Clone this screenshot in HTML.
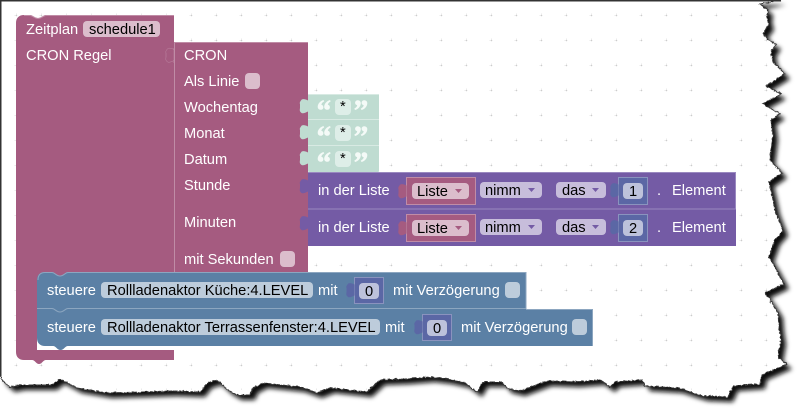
<!DOCTYPE html>
<html><head><meta charset="utf-8">
<style>
html,body{margin:0;padding:0;background:#fff;width:808px;height:420px;overflow:hidden}
svg{display:block}
text{font-family:"Liberation Sans",sans-serif;font-size:14.67px;fill:#fff}
.d{fill:#000}
</style></head><body>
<svg width="808" height="420" viewBox="0 0 808 420" xmlns="http://www.w3.org/2000/svg">
<defs>
<filter id="b" x="-5%" y="-5%" width="110%" height="110%"><feGaussianBlur stdDeviation="2.4"/></filter>
<filter id="j" x="-2%" y="-2%" width="104%" height="104%"><feTurbulence type="fractalNoise" baseFrequency=".35" numOctaves="2" seed="4"/><feDisplacementMap in="SourceGraphic" scale="3" xChannelSelector="R" yChannelSelector="G"/></filter>
<pattern id="g" x="16" y="15" width="25" height="25" patternUnits="userSpaceOnUse">
<path d="M-1.5 0H1.5M0 -1.5V1.5M23.5 0H25M0 23.5V25" stroke="#d4d4d4" stroke-width="1" fill="none"/>
<rect x="-1" y="-1" width="2" height="2" fill="#ccc"/>
</pattern>
<path id="tab" d="M8 0 V1.5 C5 0 2 -.5 1 1.5 C-.5 3.500 -.3 4 0 5 V9 C-.3 11 -.5 12 1 13.500 C2.500 15 5 14 8 12.500 V15 Z"/>
<path id="ql" d="M5.500 0 C2 1 -.3 4 -.3 6.800 C-.3 8.800 1.200 9.800 2.800 9.800 C4.300 9.800 5.400 8.700 5.400 7.200 C5.400 5.800 4.400 4.900 3.300 4.800 C3.500 3.500 4.500 2.300 6.200 1.400 Z"/>
<g id="qo"><use href="#ql" x="0"/><use href="#ql" x="6.500"/></g>
<path id="edge" d="M0 0H781L760 4L768 10L767 18L769 25L763 33L768 40L776 44L771 52L773 62L785 74L766 86L781 94L763 104L780 114L771 120L773 135L770 160L782 173L769 182L772 195L775 210L783 231L775 240L769 257L775 267L784 284L765 293L772 303L778 313L779 327L781 340L778 357L787 364L762 375L760 384L733 386L728 397L703 396L693 393L678 388L645 386L642 380L615 382L610 387L600 380L575 382L547 381L520 391L507 388L502 382L483 382L477 392L465 383L447 379L430 377L405 379L380 380L367 392L330 388L317 393L300 387L263 383L253 388L250 395L237 395L228 390L217 380L207 383L200 392L172 391L143 392L107 393L77 388L60 379L52 385L20 385L10 387L2 380L0 375Z"/>
</defs>
<rect width="808" height="420" fill="#fff"/>
<use href="#edge" transform="translate(5,5)" fill="#111" filter="url(#b)"/>
<g filter="url(#j)"><use href="#edge" fill="#fff" stroke="#333" stroke-width="1"/></g>
<path d="M0 .5H781" stroke="#333" stroke-width="2"/>
<path d="M.5 0V376" stroke="#333" stroke-width="2"/>
<clipPath id="c"><use href="#edge"/></clipPath>
<rect x="2" y="2" width="775" height="388" fill="url(#g)" clip-path="url(#c)"/>

<!-- outer block -->
<path d="M24 15H30C33 15 34 18 38 18C42 18 43 15 46 15H174V272H37V350H174V360H46C43 360 42 364 39 364C36 364 35 360 32 360H24C19 360 16 357 16 352V23C16 18 19 15 24 15Z" fill="#a55b80"/>
<rect x="37" y="271" width="137" height="9" fill="#a55b80"/>
<rect x="174" y="271" width="134" height="5" fill="#a55b80"/>
<path d="M24 15.500H30C33 15.500 34 18.500 38 18.500C42 18.500 43 15.500 46 15.500H174" fill="none" stroke="#c08ca6"/>
<!-- inner cron -->
<rect x="174" y="42" width="134" height="230" fill="#a55b80"/>
<path d="M174 42.500H308" stroke="#c08ca6"/>
<path d="M174.500 42V272" stroke="#c08ca6"/>
<g fill="#a55b80" stroke="#c08ca6" stroke-width=".5"><use href="#tab" x="166" y="48"/></g>
<text x="26" y="34">Zeitplan</text>
<rect x="83" y="21" width="77" height="16" rx="4" fill="#dbbdcc"/><text class="d" x="89" y="34">schedule1</text>
<text x="26" y="60">CRON Regel</text>
<text x="184" y="60">CRON</text>
<text x="184" y="86">Als Linie</text><rect x="245" y="73" width="15" height="16" rx="4" fill="#dbbdcc"/>
<text x="184" y="112">Wochentag</text>
<text x="184" y="138">Monat</text>
<text x="184" y="164">Datum</text>
<text x="184" y="190">Stunde</text>
<text x="184" y="227">Minuten</text>
<text x="184" y="264">mit Sekunden</text><rect x="280" y="251" width="15" height="16" rx="4" fill="#dbbdcc"/>

<!-- green -->
<rect x="308" y="94" width="71" height="78" rx="1" fill="#bfdcd1"/>
<path d="M308 119.500H379M308 145.500H379" stroke="#d8eae3"/>
<path d="M308 94.500H379" stroke="#d8eae3"/>
<g fill="#bfdcd1"><use href="#tab" x="300" y="99"/><use href="#tab" x="300" y="125"/><use href="#tab" x="300" y="151"/></g>
<g>
<g fill="#f4faf7"><use href="#qo" x="318" y="100"/><use href="#qo" transform="translate(367,110) rotate(180)"/></g>
<rect x="335" y="99" width="16" height="16" rx="4" fill="#deeee8"/><text class="d" x="340" y="111">*</text>
<g fill="#f4faf7"><use href="#qo" x="318" y="126"/><use href="#qo" transform="translate(367,136) rotate(180)"/></g>
<rect x="335" y="125" width="16" height="16" rx="4" fill="#deeee8"/><text class="d" x="340" y="137">*</text>
<g fill="#f4faf7"><use href="#qo" x="318" y="152"/><use href="#qo" transform="translate(367,162) rotate(180)"/></g>
<rect x="335" y="151" width="16" height="16" rx="4" fill="#deeee8"/><text class="d" x="340" y="163">*</text>
</g>

<!-- purple rows -->
<rect x="308" y="172" width="428" height="74" fill="#745ba5"/>
<path d="M308 172.500H736M308 209H736" stroke="#9a89c0" stroke-width="1"/>
<path d="M735.500 172V209" stroke="#9a89c0"/>
<g fill="#745ba5"><use href="#tab" x="300" y="179"/><use href="#tab" x="300" y="216"/></g>
<g>
<text x="318" y="195">in der Liste</text>
<rect x="406.500" y="177.500" width="69" height="27" fill="#a55b80" stroke="#c08ca6"/>
<g fill="#a55b80"><use href="#tab" x="398.500" y="184"/></g>
<rect x="412" y="183" width="57" height="16" rx="4" fill="#dbbdcc"/>
<text class="d" x="417" y="196">Liste</text>
<path d="M455 189H462L458.500 193Z" fill="#a55b80"/>
<rect x="480" y="182" width="62" height="16" rx="4" fill="#c7bddb"/>
<text class="d" x="485" y="195">nimm</text>
<path d="M528 188H535L531.500 192Z" fill="#745ba5"/>
<rect x="556" y="182" width="50" height="16" rx="4" fill="#c7bddb"/>
<text class="d" x="562" y="195">das</text>
<path d="M592 188H599L595.500 192Z" fill="#745ba5"/>
<rect x="618.500" y="177.500" width="29" height="27" fill="#5b67a5" stroke="#8a93be"/>
<g fill="#5b67a5"><use href="#tab" x="610.500" y="183"/></g>
<rect x="623" y="183" width="20" height="16" rx="4" fill="#bdc2db"/>
<text class="d" x="629" y="196">1</text>
<text x="657" y="195">.</text>
<text x="672" y="195">Element</text>
</g>
<g>
<text x="318" y="232">in der Liste</text>
<rect x="406.500" y="214.500" width="69" height="27" fill="#a55b80" stroke="#c08ca6"/>
<g fill="#a55b80"><use href="#tab" x="398.500" y="221"/></g>
<rect x="412" y="220" width="57" height="16" rx="4" fill="#dbbdcc"/>
<text class="d" x="417" y="233">Liste</text>
<path d="M455 226H462L458.500 230Z" fill="#a55b80"/>
<rect x="480" y="219" width="62" height="16" rx="4" fill="#c7bddb"/>
<text class="d" x="485" y="232">nimm</text>
<path d="M528 225H535L531.500 229Z" fill="#745ba5"/>
<rect x="556" y="219" width="50" height="16" rx="4" fill="#c7bddb"/>
<text class="d" x="562" y="232">das</text>
<path d="M592 225H599L595.500 229Z" fill="#745ba5"/>
<rect x="618.500" y="214.500" width="29" height="27" fill="#5b67a5" stroke="#8a93be"/>
<g fill="#5b67a5"><use href="#tab" x="610.500" y="220"/></g>
<rect x="623" y="220" width="20" height="16" rx="4" fill="#bdc2db"/>
<text class="d" x="629" y="233">2</text>
<text x="657" y="232">.</text>
<text x="672" y="232">Element</text>
</g>

<!-- blue statements -->
<path d="M45 272H52C55 272 56 275.500 60 275.500C64 275.500 65 272 68 272H526V309H593V346H68C65 346 64 350 60.500 350C57 350 56 346 53 346H45C40 346 37 343 37 338V280C37 275 40 272 45 272Z" fill="#5b80a5"/>
<path d="M38 280C38 275 40 272.500 45 272.500H52C55 272.500 56 276 60 276C64 276 65 272.500 68 272.500H526M526 272V309" fill="none" stroke="#8ca6c0"/>
<path d="M37 308.500H52C55 308.500 56 312 60 312C64 312 65 308.500 68 308.500H526M526 309.500H593M592.500 309V346" fill="none" stroke="#8ca6c0"/>
<text x="47" y="295">steuere</text>
<rect x="101" y="282" width="212" height="16" rx="4" fill="#bdccdb"/>
<text class="d" x="107" y="295">Rollladenaktor Küche:4.LEVEL</text>
<text x="318" y="295">mit</text>
<rect x="354.500" y="277.500" width="29" height="26" fill="#5b67a5" stroke="#8a93be"/>
<g fill="#5b67a5"><use href="#tab" x="346.500" y="283"/></g>
<rect x="359" y="283" width="20" height="16" rx="4" fill="#bdc2db"/>
<text class="d" x="365" y="296">0</text>
<text x="393" y="295">mit Verzögerung</text>
<rect x="505" y="282" width="15" height="16" rx="4" fill="#bdccdb"/>

<text x="47" y="332">steuere</text>
<rect x="101" y="319" width="279" height="16" rx="4" fill="#bdccdb"/>
<text class="d" x="107" y="332">Rollladenaktor Terrassenfenster:4.LEVEL</text>
<text x="385" y="332">mit</text>
<rect x="422.500" y="314.500" width="29" height="26" fill="#5b67a5" stroke="#8a93be"/>
<g fill="#5b67a5"><use href="#tab" x="414.500" y="320"/></g>
<rect x="427" y="320" width="20" height="16" rx="4" fill="#bdc2db"/>
<text class="d" x="433" y="333">0</text>
<text x="461" y="332">mit Verzögerung</text>
<rect x="572" y="319" width="15" height="16" rx="4" fill="#bdccdb"/>
</svg>
</body></html>
